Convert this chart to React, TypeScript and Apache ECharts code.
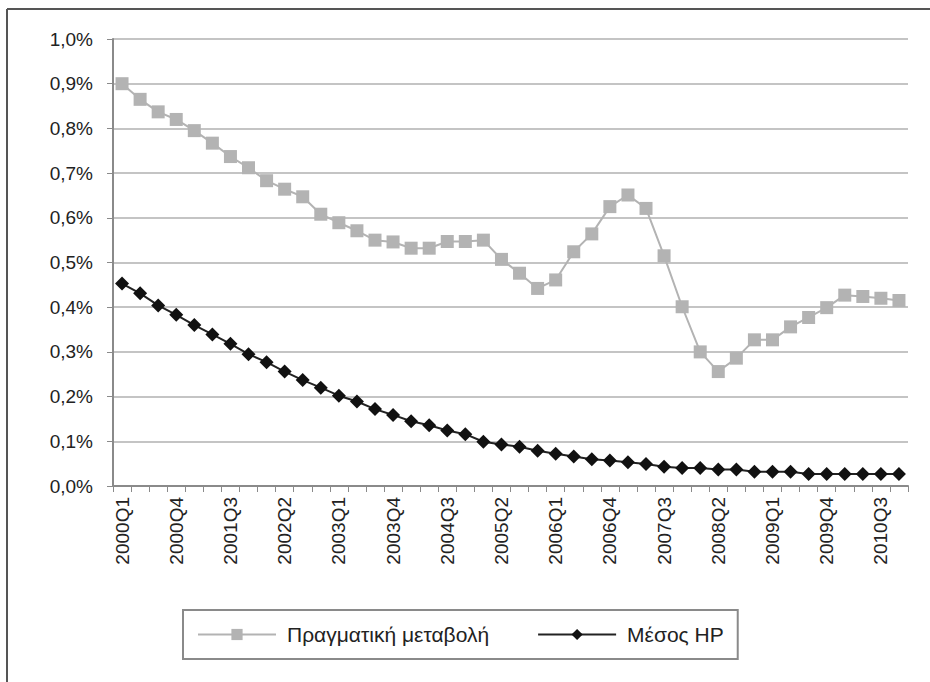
import React, { useEffect, useRef } from "react";
import * as echarts from "echarts";

const years = [2000, 2001, 2002, 2003, 2004, 2005, 2006, 2007, 2008, 2009, 2010];
const quarters = ["Q1", "Q2", "Q3", "Q4"];
const categories: string[] = [];
years.forEach((y) => quarters.forEach((q) => categories.push(`${y}${q}`)));

const actualChange = [
  0.900, 0.865, 0.837, 0.820, 0.795, 0.767, 0.737, 0.712, 0.683, 0.664, 0.647,
  0.608, 0.589, 0.571, 0.550, 0.546, 0.532, 0.532, 0.547, 0.547, 0.550, 0.507,
  0.476, 0.442, 0.461, 0.524, 0.564, 0.625, 0.651, 0.621, 0.515, 0.401, 0.300,
  0.256, 0.286, 0.327, 0.327, 0.356, 0.377, 0.399, 0.427, 0.424, 0.420, 0.415,
];

const hpMean = [
  0.453, 0.431, 0.404, 0.383, 0.360, 0.339, 0.318, 0.295, 0.277, 0.256, 0.237,
  0.220, 0.202, 0.189, 0.172, 0.159, 0.145, 0.136, 0.124, 0.116, 0.099, 0.093,
  0.088, 0.079, 0.072, 0.066, 0.060, 0.057, 0.053, 0.049, 0.043, 0.040, 0.040,
  0.037, 0.037, 0.032, 0.032, 0.032, 0.027, 0.027, 0.027, 0.027, 0.027, 0.027,
];

const seriesNames = ["Πραγματική μεταβολή", "Μέσος HP"];

const FONT = "Liberation Sans, Arial, sans-serif";

export default function App() {
  const ref = useRef<HTMLDivElement>(null);
  useEffect(() => {
    if (!ref.current) return;
    const chart = echarts.init(ref.current, undefined, { renderer: "svg" });
    chart.setOption({
      animation: false,
      backgroundColor: "#ffffff",
      grid: { left: 113, right: 22, top: 39, bottom: 196, containLabel: false },
      xAxis: {
        type: "category",
        data: categories,
        boundaryGap: true,
        axisLine: { lineStyle: { color: "#8a8a8a", width: 2 } },
        axisTick: { show: true, interval: 0, length: 6, lineStyle: { color: "#8a8a8a", width: 1 } },
        axisLabel: {
          interval: 2,
          rotate: 90,
          fontSize: 19,
          fontFamily: FONT,
          color: "#222",
          margin: 11,
        },
        splitLine: { show: false },
      },
      yAxis: {
        type: "value",
        min: 0,
        max: 1.0,
        interval: 0.1,
        axisLine: { show: true, lineStyle: { color: "#8a8a8a", width: 2 } },
        axisTick: { show: true, length: 6, lineStyle: { color: "#8a8a8a", width: 1 } },
        axisLabel: {
          fontSize: 19,
          fontFamily: FONT,
          color: "#222",
          margin: 20,
          formatter: (v: number) => v.toFixed(1).replace(".", ",") + "%",
        },
        splitLine: { lineStyle: { color: "#c4c4c4", width: 2 } },
      },
      legend: {
        left: 183,
        top: 610,
        data: seriesNames,
        orient: "horizontal",
        itemWidth: 78,
        itemHeight: 14,
        itemGap: 48,
        padding: [14, 14, 14, 14],
        borderColor: "#8a8a8a",
        borderWidth: 2,
        textStyle: { fontSize: 21, fontFamily: FONT, color: "#222", padding: [0, 0, 0, 6] },
      },
      series: [
        {
          name: seriesNames[0],
          type: "line",
          data: actualChange,
          symbol: "rect",
          symbolSize: 13,
          showAllSymbol: true,
          itemStyle: { color: "#b3b3b3" },
          lineStyle: { color: "#b3b3b3", width: 2 },
          z: 2,
        },
        {
          name: seriesNames[1],
          type: "line",
          data: hpMean,
          symbol: "diamond",
          symbolSize: 14,
          showAllSymbol: true,
          itemStyle: { color: "#111111" },
          lineStyle: { color: "#222222", width: 2 },
          z: 3,
        },
      ],
      graphic: [
        {
          type: "line",
          shape: { x1: 7, y1: 9, x2: 930, y2: 9 },
          style: { stroke: "#555", lineWidth: 2 },
        },
        {
          type: "line",
          shape: { x1: 7, y1: 9, x2: 7, y2: 682 },
          style: { stroke: "#555", lineWidth: 2 },
        },
      ],
    });
    return () => chart.dispose();
  }, []);
  return (
    <div
      ref={ref}
      style={{ position: "fixed", left: 0, top: 0, width: 930, height: 682, background: "#fff" }}
    />
  );
}
